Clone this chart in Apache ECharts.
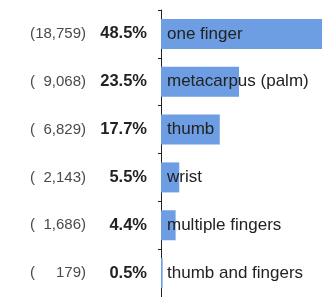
<!DOCTYPE html>
<html>
<head>
<meta charset="utf-8">
<script src="https://cdn.jsdelivr.net/npm/echarts@6/dist/echarts.min.js"></script>
<style>
  html, body { margin: 0; padding: 0; background: #fff; }
  #chart { width: 327px; height: 297px; }
</style>
</head>
<body>
<div id="chart"></div>
<script>
const categories = ['one finger', 'metacarpus (palm)', 'thumb', 'wrist', 'multiple fingers', 'thumb and fingers'];
const counts = ['18,759', '9,068', '6,829', '2,143', '1,686', '179'];
const percents = [48.5, 23.5, 17.7, 5.5, 4.4, 0.5];

const font = '"Liberation Sans", Arial, sans-serif';
const chart = echarts.init(document.getElementById('chart'));

chart.setOption({
  backgroundColor: '#fff',
  animation: false,
  grid: { left: 161, top: 10, width: 172.5, height: 300 },
  xAxis: {
    type: 'value',
    min: 0,
    max: 50,
    show: false,
  },
  yAxis: {
    type: 'category',
    inverse: true,
    data: categories,
    axisLine: { lineStyle: { color: '#222', width: 1 } },
    axisTick: { show: true, length: 3, lineStyle: { color: '#222' } },
    axisLabel: {
      margin: 14,
      formatter: (name) => {
        const idx = categories.indexOf(name);
        return '{p|(}{n|' + counts[idx] + '}{q|)}{v|' + percents[idx].toFixed(1) + '%}';
      },
      rich: {
        p: { fontFamily: font, fontSize: 15, color: '#4a4a4a', align: 'left' },
        n: { fontFamily: font, fontSize: 15, color: '#4a4a4a', width: 46, align: 'right' },
        q: { fontFamily: font, fontSize: 15, color: '#4a4a4a', align: 'right' },
        v: { fontFamily: font, fontSize: 16.5, fontWeight: 'bold', color: '#222', width: 61, align: 'right' },
      },
    },
  },
  series: [
    {
      type: 'bar',
      data: percents,
      barWidth: 30,
      clip: false,
      itemStyle: { color: '#6d9de2' },
      label: {
        show: true,
        position: 'insideLeft',
        distance: 6,
        fontFamily: font,
        fontSize: 17,
        color: '#222',
        formatter: (p) => categories[p.dataIndex],
      },
    },
  ],
});
</script>
</body>
</html>
